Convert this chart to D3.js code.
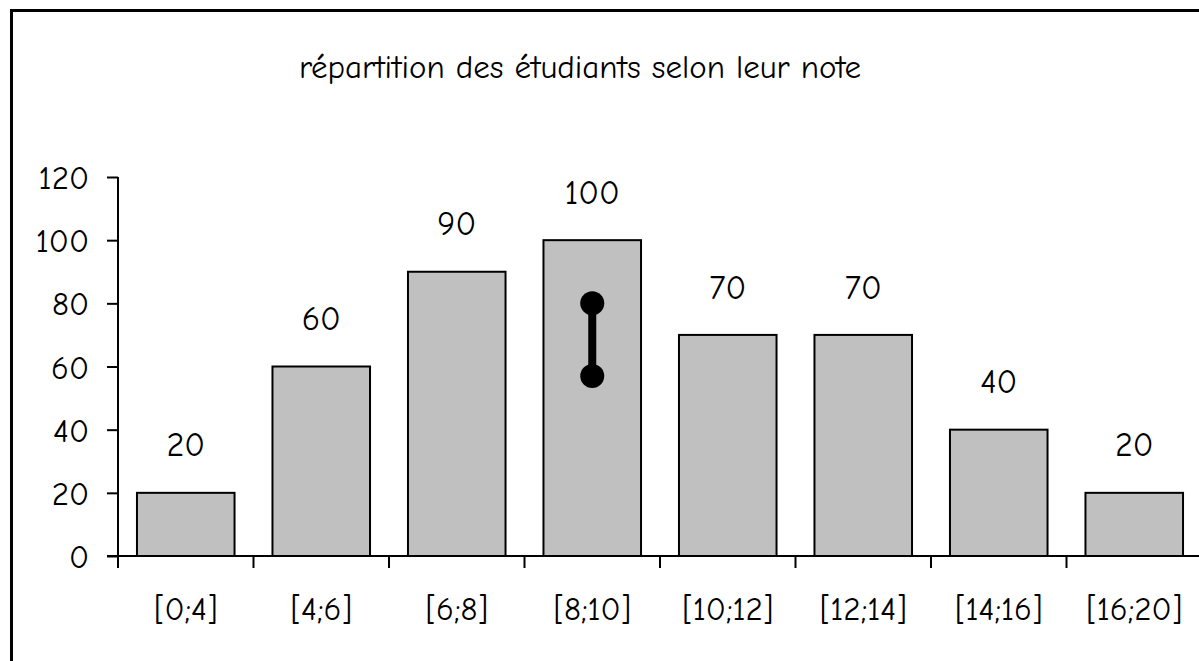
<!DOCTYPE html>
<html>
<head>
<meta charset="utf-8">
<script src="https://cdn.jsdelivr.net/npm/d3@7"></script>
<style>
  html, body { margin:0; padding:0; background:#fff; }
  svg { display:block; }
  text { font-family: "Comic Sans MS", "Comic Neue", "DejaVu Sans", sans-serif; fill:#000; }
</style>
</head>
<body>
<div id="chart"></div>
<script>
// data
const categories = ["[0;4]", "[4;6]", "[6;8]", "[8;10]", "[10;12]", "[12;14]", "[14;16]", "[16;20]"];
const counts = [20, 60, 90, 100, 70, 70, 40, 20];
const yTicks = [0, 20, 40, 60, 80, 100, 120];
const titleText = "répartition des étudiants selon leur note";
// the black marker drawn inside the [8;10] bar
const markerCategory = "[8;10]";
const markerRange = [57, 80];

const W = 1199, H = 661;
const plotLeft = 118, plotBottom = 556, plotTop = 177;

const svg = d3.select("#chart").append("svg")
  .attr("width", W).attr("height", H);

// outer frame (runs off the right and bottom edges)
svg.append("rect")
  .attr("x", 11.5).attr("y", 10.5)
  .attr("width", 1300).attr("height", 800)
  .attr("fill", "none").attr("stroke", "#000").attr("stroke-width", 3);

svg.append("text")
  .attr("x", 580).attr("y", 78)
  .attr("text-anchor", "middle")
  .attr("font-size", 33)
  .text(titleText);

const x = d3.scaleBand()
  .domain(categories)
  .range([plotLeft, plotLeft + 135.5 * categories.length])
  .paddingInner(0.28)
  .paddingOuter(0.14);

const y = d3.scaleLinear().domain([0, 120]).range([plotBottom, plotTop]);

const halfGap = x.step() * x.paddingInner() / 2;

// bars
svg.append("g").selectAll("rect")
  .data(categories)
  .join("rect")
  .attr("x", d => x(d))
  .attr("y", (d, i) => y(counts[i]))
  .attr("width", x.bandwidth())
  .attr("height", (d, i) => y(0) - y(counts[i]))
  .attr("fill", "#c0c0c0")
  .attr("stroke", "#000")
  .attr("stroke-width", 2);

// value labels
svg.append("g").selectAll("text")
  .data(categories)
  .join("text")
  .attr("x", d => x(d) + x.bandwidth() / 2)
  .attr("y", (d, i) => y(counts[i] + 15) + 11)
  .attr("text-anchor", "middle")
  .attr("font-size", 34)
  .text((d, i) => counts[i]);

// y axis
const yAxis = svg.append("g").attr("transform", `translate(${plotLeft},0)`)
  .call(d3.axisLeft(y).tickValues(yTicks).tickSize(11).tickPadding(18));
yAxis.attr("font-family", null);
yAxis.select(".domain").attr("stroke", "#000").attr("stroke-width", 2)
  .attr("d", `M0,${plotTop}V${plotBottom}`);
yAxis.selectAll(".tick line").attr("stroke", "#000").attr("stroke-width", 2);
yAxis.selectAll(".tick text")
  .attr("font-size", 33).attr("dy", "0.35em");

// x axis: line, boundary ticks, category labels
const xAxis = svg.append("g");
xAxis.append("line")
  .attr("x1", plotLeft - 11).attr("x2", W)
  .attr("y1", plotBottom).attr("y2", plotBottom)
  .attr("stroke", "#000").attr("stroke-width", 2);
xAxis.selectAll(".xt")
  .data(categories)
  .join("line")
  .attr("class", "xt")
  .attr("x1", d => x(d) - halfGap).attr("x2", d => x(d) - halfGap)
  .attr("y1", plotBottom).attr("y2", plotBottom + 12)
  .attr("stroke", "#000").attr("stroke-width", 2);
xAxis.selectAll("text")
  .data(categories)
  .join("text")
  .attr("x", d => x(d) + x.bandwidth() / 2)
  .attr("y", 620)
  .attr("text-anchor", "middle")
  .attr("font-size", 33)
  .text(d => d);

// black dumbbell marker
const mx = x(markerCategory) + x.bandwidth() / 2;
const marker = svg.append("g");
marker.append("line")
  .attr("x1", mx).attr("x2", mx)
  .attr("y1", y(markerRange[0])).attr("y2", y(markerRange[1]))
  .attr("stroke", "#000").attr("stroke-width", 8);
marker.selectAll("circle")
  .data(markerRange)
  .join("circle")
  .attr("cx", mx).attr("cy", d => y(d)).attr("r", 12)
  .attr("fill", "#000");
</script>
</body>
</html>
